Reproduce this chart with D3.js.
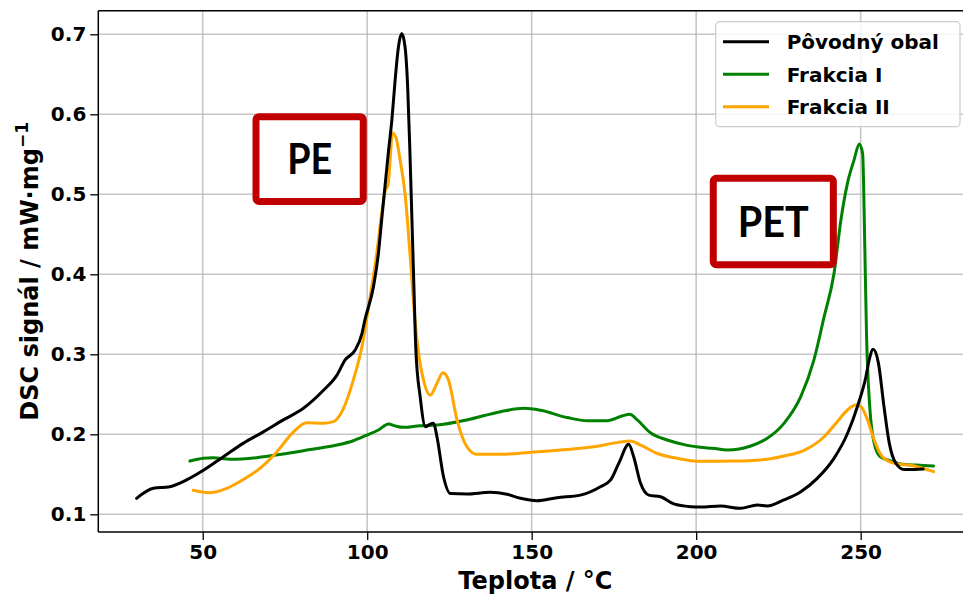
<!DOCTYPE html>
<html>
<head>
<meta charset="utf-8">
<script src="https://cdn.jsdelivr.net/npm/d3@7"></script>
<style>
  html, body { margin: 0; padding: 0; background: #fff; overflow: hidden; }
  svg { display: block; font-family: "DejaVu Sans", sans-serif; font-weight: bold; }
</style>
</head>
<body>
<svg id="chart" width="963" height="596"></svg>
<script>
// ---------- data ----------
const seriesNames = ["Pôvodný obal", "Frakcia I", "Frakcia II"];
const seriesColors = ["#000000", "#008000", "#FFA500"];

const povodnyT = [29.9,35.0,40.0,45.1,50.2,56.3,62.4,68.4,74.5,80.6,86.7,90.8,93.3,96.3,98.4,99.3,101.9,103.4,104.4,105.4,106.4,107.5,108.5,109.5,110.5,111.5,112.3,113.0,113.6,114.2,114.8,116.1,117.7,119.0,120.2,121.2,123.2,125.3,130.3,137.4,142.5,146.6,151.6,157.7,164.8,170.9,174,176.5,179.5,181,183.1,185.6,189.2,193.2,198.3,201.3,207.4,213.5,218.6,221.6,226.7,231.8,236.8,241.9,246,249,251.6,252.6,253.8,255.4,257.1,258.7,260.7,263.2,266.5,269.0];
const povodnyV = [0.120,0.1325,0.1345,0.143,0.155,0.172,0.189,0.203,0.218,0.2325,0.255,0.274,0.293,0.305,0.326,0.343,0.3845,0.426,0.468,0.5095,0.551,0.593,0.643,0.6845,0.701,0.6845,0.6345,0.551,0.468,0.3845,0.305,0.247,0.2095,0.2125,0.2137,0.197,0.147,0.126,0.1254,0.1275,0.125,0.120,0.117,0.1208,0.124,0.1345,0.143,0.164,0.1875,0.172,0.1387,0.124,0.122,0.113,0.1095,0.109,0.1104,0.1075,0.1116,0.1104,0.118,0.1283,0.145,0.170,0.201,0.2345,0.272,0.293,0.3063,0.289,0.2345,0.189,0.1638,0.156,0.156,0.1565];

const frakcia1T = [46.1,50.2,53.2,58.3,66.4,74.5,82.7,90.8,95.8,99.9,103.4,106.5,108.5,111,116.1,121.2,130.3,140.5,147.6,152.7,160.8,166.9,172.9,177.5,179.8,182.1,186.1,191.2,197.3,201.3,205,209.5,216.6,221.6,226.7,231.8,235.8,238.9,241.9,244,246,248,249.6,250.6,251.3,251.8,252.7,253.9,255.9,258.2,262.2,267,272.2];
const frakcia1V = [0.1666,0.170,0.1708,0.1688,0.1708,0.1754,0.181,0.1866,0.192,0.199,0.2054,0.2129,0.2105,0.2087,0.2108,0.2116,0.218,0.2283,0.2325,0.230,0.221,0.217,0.217,0.2229,0.225,0.218,0.202,0.1929,0.1862,0.1837,0.1825,0.1804,0.1854,0.195,0.2137,0.247,0.293,0.347,0.401,0.468,0.514,0.543,0.563,0.551,0.426,0.322,0.2387,0.193,0.172,0.168,0.163,0.1615,0.1604];

const frakcia2T = [47.1,51.7,57.3,62.4,67.4,72.5,77.6,81.6,86.7,89.7,92.8,95.8,98.3,100.9,102.9,104.4,105.4,106.4,107.1,107.6,108.8,110,111.5,113,114.5,115.5,117.1,119.2,121.2,123,124.7,127.3,130.3,133.4,140.5,150.6,160.8,168.9,176,180,183.1,188.2,194.2,201.3,211.5,219.6,226.7,232.8,238.9,242.9,246,248.5,250.1,252.1,254.1,256.6,260.2,266.3,272.2];
const frakcia2V = [0.130,0.127,0.1325,0.1437,0.1575,0.178,0.203,0.2145,0.2137,0.2158,0.2325,0.268,0.3075,0.372,0.426,0.476,0.503,0.514,0.551,0.577,0.570,0.543,0.501,0.426,0.343,0.305,0.268,0.249,0.2637,0.277,0.268,0.218,0.1845,0.175,0.175,0.178,0.181,0.1845,0.1896,0.1916,0.1866,0.176,0.170,0.1662,0.1666,0.168,0.173,0.180,0.197,0.2158,0.2304,0.2366,0.2345,0.218,0.193,0.172,0.1638,0.1604,0.1533];

const xTicks = [50, 100, 150, 200, 250];
const yTicks = [0.1, 0.2, 0.3, 0.4, 0.5, 0.6, 0.7];
const xLabel = "Teplota / °C";
const yLabelMain = "DSC signál / mW·mg";
const yLabelSup = "−1";

// annotation boxes in data coordinates
const annoLabels = ["PE", "PET"];
const annoT0 = [66.2, 205.2];
const annoT1 = [98.8, 241.7];
const annoV0 = [0.491, 0.412];
const annoV1 = [0.597, 0.520];

// ---------- chart ----------
const svg = d3.select("#chart");
const mLeft = 98.3, mRight = 972.5, mTop = 10.7, mBottom = 532;

const x = d3.scaleLinear().domain([18.26, 284]).range([mLeft, mRight]);
const y = d3.scaleLinear().domain([0.0779, 0.7295]).range([mBottom, mTop]);

// grid
const grid = svg.append("g");
grid.selectAll("line.gx").data(xTicks).enter().append("line")
  .attr("x1", d => x(d)).attr("x2", d => x(d))
  .attr("y1", mTop).attr("y2", mBottom)
  .attr("stroke", "#b0b0b0").attr("stroke-opacity", 0.7).attr("stroke-width", 1.6);
grid.selectAll("line.gy").data(yTicks).enter().append("line")
  .attr("x1", mLeft).attr("x2", mRight)
  .attr("y1", d => y(d)).attr("y2", d => y(d))
  .attr("stroke", "#b0b0b0").attr("stroke-opacity", 0.7).attr("stroke-width", 1.6);

// axes
const xAxis = d3.axisBottom(x).tickValues(xTicks).tickFormat(d3.format("d")).tickSize(8).tickPadding(5);
const yAxis = d3.axisLeft(y).tickValues(yTicks).tickFormat(d3.format(".1f")).tickSize(8).tickPadding(4);

const gx = svg.append("g").attr("transform", `translate(0,${mBottom})`).call(xAxis);
const gy = svg.append("g").attr("transform", `translate(${mLeft},0)`).call(yAxis);
[gx, gy].forEach(g => {
  g.select(".domain").remove();
  g.selectAll(".tick line").attr("stroke", "#000").attr("stroke-width", 1.3);
  g.selectAll(".tick text").attr("fill", "#000")
    .style("font-family", "'DejaVu Sans', sans-serif")
    .style("font-weight", "bold").style("font-size", "20px");
});

// spines
svg.append("line").attr("x1", mLeft).attr("x2", mLeft).attr("y1", mTop).attr("y2", mBottom)
  .attr("stroke", "#000").attr("stroke-width", 1.5);
svg.append("line").attr("x1", mLeft).attr("x2", mRight).attr("y1", mBottom).attr("y2", mBottom)
  .attr("stroke", "#000").attr("stroke-width", 1.5);
svg.append("line").attr("x1", mLeft).attr("x2", mRight).attr("y1", mTop).attr("y2", mTop)
  .attr("stroke", "#000").attr("stroke-width", 1.5);

// lines
const seriesT = [povodnyT, frakcia1T, frakcia2T];
const seriesV = [povodnyV, frakcia1V, frakcia2V];
const line = d3.line().x(d => x(d[0])).y(d => y(d[1])).curve(d3.curveMonotoneX);
const drawOrder = [1, 2, 0];
drawOrder.forEach(i => {
  const pts = seriesT[i].map((t, k) => [t, seriesV[i][k]]);
  svg.append("path").datum(pts).attr("d", line)
    .attr("fill", "none").attr("stroke", seriesColors[i])
    .attr("stroke-width", 3).attr("stroke-linejoin", "round").attr("stroke-linecap", "round");
});

// annotation boxes
annoLabels.forEach((lab, i) => {
  const x0 = x(annoT0[i]), x1 = x(annoT1[i]);
  const y0 = y(annoV1[i]), y1 = y(annoV0[i]);
  svg.append("rect").attr("x", x0).attr("y", y0)
    .attr("width", x1 - x0).attr("height", y1 - y0)
    .attr("rx", 3).attr("fill", "#fff").attr("stroke", "#C00000").attr("stroke-width", 7);
  svg.append("text").attr("x", (x0 + x1) / 2).attr("y", (y0 + y1) / 2 + 15)
    .attr("text-anchor", "middle")
    .style("font-family", "Lato, 'Open Sans', sans-serif").style("font-weight", "bold")
    .style("font-size", "42px").attr("fill", "#000")
    .attr("textLength", lab === "PE" ? 45 : 71).attr("lengthAdjust", "spacingAndGlyphs")
    .text(lab);
});

// legend
const lg = svg.append("g");
lg.append("rect").attr("x", 715.7).attr("y", 21.7).attr("width", 244.3).attr("height", 105)
  .attr("rx", 4).attr("fill", "#fff").attr("fill-opacity", 0.8)
  .attr("stroke", "#cccccc").attr("stroke-width", 1.2);
seriesNames.forEach((name, i) => {
  const yy = 41.7 + i * 32.5;
  lg.append("line").attr("x1", 723).attr("x2", 769).attr("y1", yy).attr("y2", yy)
    .attr("stroke", seriesColors[i]).attr("stroke-width", 3);
  lg.append("text").attr("x", 786.7).attr("y", yy + 7.3)
    .style("font-size", "20px").attr("fill", "#000").text(name);
});

// axis labels
svg.append("text").attr("x", (mLeft + mRight) / 2).attr("y", 588.5)
  .attr("text-anchor", "middle").style("font-size", "24px").attr("fill", "#000").text(xLabel);
const yl = svg.append("text").attr("transform", `translate(38,${(mTop + mBottom) / 2}) rotate(-90)`)
  .attr("text-anchor", "middle").style("font-size", "24px").attr("fill", "#000");
yl.append("tspan").text(yLabelMain);
yl.append("tspan").attr("dy", -10).style("font-size", "17px").text(yLabelSup);
</script>
</body>
</html>
